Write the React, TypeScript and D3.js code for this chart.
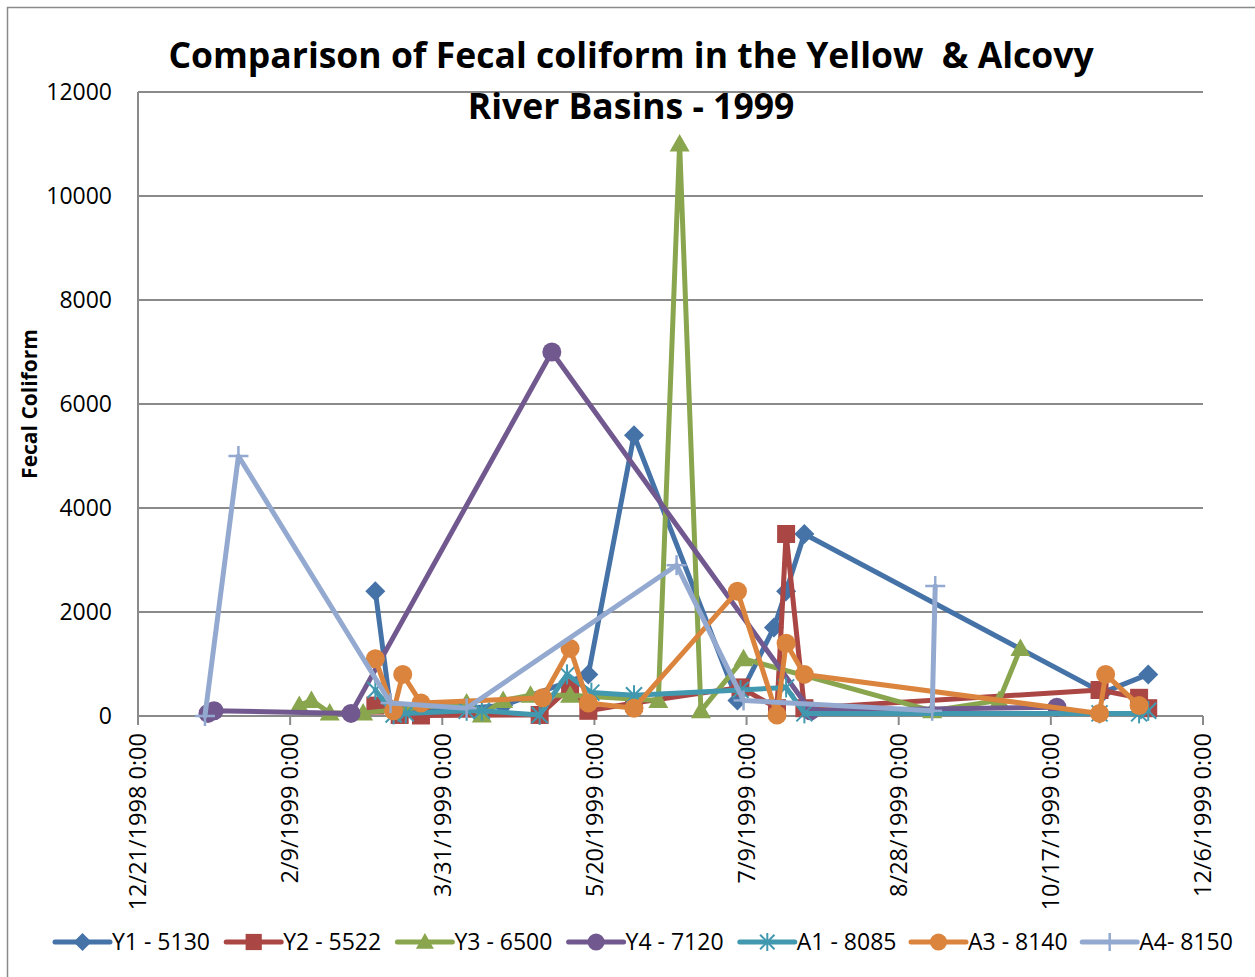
import React from "react";
import * as d3 from "d3";

// ---------- data ----------
const seriesNames = ["Y1 - 5130", "Y2 - 5522", "Y3 - 6500", "Y4 - 7120", "A1 - 8085", "A3 - 8140", "A4- 8150"];
const seriesColors = ["#4572A7", "#AA4643", "#89A54E", "#71588F", "#4198AF", "#DB843D", "#93A9CF"];
const seriesMarkers = ["diamond", "square", "triangle", "circle", "asterisk", "circle", "plus"];

const y1Dates = ["3/9/1999", "3/14/1999", "4/8/1999", "4/20/1999", "5/18/1999", "6/2/1999", "7/6/1999", "7/18/1999", "7/22/1999", "7/28/1999", "11/3/1999", "11/18/1999"];
const y1Values = [2400, 150, 150, 200, 800, 5400, 300, 1700, 2400, 3500, 450, 800];

const y2Dates = ["3/9/1999", "3/17/1999", "3/24/1999", "5/2/1999", "5/12/1999", "5/18/1999", "6/2/1999", "7/7/1999", "7/19/1999", "7/22/1999", "7/28/1999", "11/2/1999", "11/15/1999", "11/18/1999"];
const y2Values = [200, 20, 10, 20, 550, 100, 250, 550, 150, 3500, 150, 500, 350, 150];

const y3Dates = ["2/12/1999", "2/16/1999", "2/22/1999", "3/5/1999", "4/8/1999", "4/13/1999", "4/20/1999", "4/29/1999", "5/12/1999", "6/10/1999", "6/17/1999", "6/24/1999", "7/8/1999", "9/8/1999", "9/30/1999", "10/7/1999"];
const y3Values = [200, 300, 60, 60, 250, 20, 300, 400, 400, 300, 11000, 100, 1100, 100, 300, 1300];

const y4Dates = ["1/13/1999", "1/15/1999", "3/1/1999", "5/6/1999", "7/30/1999", "10/19/1999"];
const y4Values = [50, 100, 50, 7000, 100, 170];

const a1Dates = ["3/9/1999", "3/15/1999", "3/19/1999", "4/8/1999", "4/13/1999", "5/2/1999", "5/11/1999", "5/19/1999", "6/2/1999", "7/7/1999", "7/22/1999", "7/28/1999", "11/2/1999", "11/15/1999", "11/18/1999"];
const a1Values = [500, 30, 50, 100, 100, 20, 800, 450, 400, 500, 550, 50, 50, 50, 100];

const a3Dates = ["3/9/1999", "3/15/1999", "3/18/1999", "3/24/1999", "5/3/1999", "5/12/1999", "5/18/1999", "6/2/1999", "7/6/1999", "7/19/1999", "7/22/1999", "7/28/1999", "11/2/1999", "11/4/1999", "11/15/1999"];
const a3Values = [1100, 100, 800, 250, 350, 1300, 250, 150, 2400, 20, 1400, 800, 50, 800, 200];

const a4Dates = ["1/12/1999", "1/23/1999", "3/14/1999", "4/8/1999", "6/16/1999", "7/8/1999", "9/8/1999", "9/9/1999"];
const a4Values = [0, 5000, 250, 150, 2900, 300, 100, 2500];

const seriesDates = [y1Dates, y2Dates, y3Dates, y4Dates, a1Dates, a3Dates, a4Dates];
const seriesValues = [y1Values, y2Values, y3Values, y4Values, a1Values, a3Values, a4Values];

const xStart = "12/21/1998";
const xEnd = "12/6/1999";
const xTickStepDays = 50;
const yMax = 12000;
const yTickStep = 2000;

const titleLines = ["Comparison of Fecal coliform in the Yellow  & Alcovy", "River Basins - 1999"];
const yAxisTitle = "Fecal Coliform";

// ---------- layout ----------
const W = 1255;
const H = 977;
const plot = { left: 138, right: 1203, top: 92, bottom: 716 };
const FONT = "'Open Sans', 'Liberation Sans', sans-serif";
const GRID = "#8a8a8a";

const parse = d3.timeParse("%m/%d/%Y");
const fmt = d3.timeFormat("%-m/%-d/%Y 0:00");

function Marker({ type, x, y, color, s }: { type: string; x: number; y: number; color: string; s: number }) {
  if (type === "diamond") {
    return <polygon points={`${x},${y - s} ${x + s},${y} ${x},${y + s} ${x - s},${y}`} fill={color} />;
  }
  if (type === "square") {
    const h = s * 0.9;
    return <rect x={x - h} y={y - h} width={2 * h} height={2 * h} fill={color} />;
  }
  if (type === "triangle") {
    return <polygon points={`${x},${y - s} ${x + s},${y + s * 0.75} ${x - s},${y + s * 0.75}`} fill={color} />;
  }
  if (type === "circle") {
    return <circle cx={x} cy={y} r={s * 0.95} fill={color} />;
  }
  if (type === "asterisk") {
    const d = s * 0.8;
    return (
      <g stroke={color} strokeWidth={2}>
        <line x1={x} y1={y - s} x2={x} y2={y + s} />
        <line x1={x - d} y1={y - d} x2={x + d} y2={y + d} />
        <line x1={x - d} y1={y + d} x2={x + d} y2={y - d} />
      </g>
    );
  }
  if (type === "plus") {
    return (
      <g stroke={color} strokeWidth={2.5}>
        <line x1={x} y1={y - s} x2={x} y2={y + s} />
        <line x1={x - s} y1={y} x2={x + s} y2={y} />
      </g>
    );
  }
  return null;
}

export default function App() {
  const start = parse(xStart)!;
  const end = parse(xEnd)!;
  const x = d3.scaleTime().domain([start, end]).range([plot.left, plot.right]);
  const y = d3.scaleLinear().domain([0, yMax]).range([plot.bottom, plot.top]);

  const nTicks = Math.round(d3.timeDay.count(start, end) / xTickStepDays);
  const xTicks = d3.range(0, nTicks + 1).map((i) => d3.timeDay.offset(start, i * xTickStepDays));
  const yTicks = d3.range(0, yMax + 1, yTickStep);

  const line = d3
    .line<{ d: Date; v: number }>()
    .x((p) => x(p.d))
    .y((p) => y(p.v));

  const series = seriesNames.map((name, i) => ({
    name,
    color: seriesColors[i],
    marker: seriesMarkers[i],
    pts: seriesDates[i].map((ds, j) => ({ d: parse(ds)!, v: seriesValues[i][j] })),
  }));

  const legendX0 = 55;
  const legendStride = 171.2;
  const legendY = 942;

  return (
    <svg width={W} height={H} style={{ position: "absolute", left: 0, top: 0, background: "#fff" }} fontFamily={FONT}>
      <rect x={7.5} y={7.5} width={W + 10} height={H + 10} fill="#fff" stroke={GRID} strokeWidth={1.5} />

      {/* gridlines */}
      {yTicks.map((t) => (
        <line key={t} x1={plot.left} x2={plot.right} y1={y(t)} y2={y(t)} stroke={GRID} strokeWidth={2} />
      ))}
      <line x1={plot.left} x2={plot.left} y1={plot.top} y2={plot.bottom} stroke={GRID} strokeWidth={2} />
      {xTicks.map((t, i) => (
        <line key={i} x1={x(t)} x2={x(t)} y1={plot.bottom} y2={plot.bottom + 9} stroke={GRID} strokeWidth={2} />
      ))}

      {/* y tick labels */}
      {yTicks.map((t) => (
        <text key={t} x={112} y={y(t)} dy="0.35em" textAnchor="end" fontSize={23} fill="#000">
          {t}
        </text>
      ))}

      {/* x tick labels */}
      {xTicks.map((t, i) => (
        <text
          key={i}
          transform={`translate(${x(t)},${plot.bottom + 17}) rotate(-90)`}
          dy="0.35em"
          textAnchor="end"
          fontSize={23.5}
          fill="#000"
        >
          {fmt(t)}
        </text>
      ))}

      {/* y axis title */}
      <text transform={`translate(30,${(plot.top + plot.bottom) / 2}) rotate(-90)`} dy="0.35em" textAnchor="middle" fontSize={21} fontWeight="bold">
        {yAxisTitle}
      </text>

      {/* series */}
      {series.map((s) => (
        <g key={s.name}>
          <path d={line(s.pts)!} fill="none" stroke={s.color} strokeWidth={5} strokeLinejoin="round" strokeLinecap="round" />
          {s.pts.map((p, j) => (
            <Marker key={j} type={s.marker} x={x(p.d)} y={y(p.v)} color={s.color} s={10} />
          ))}
        </g>
      ))}

      {/* title */}
      {titleLines.map((t, i) => (
        <text
          key={i}
          x={631}
          y={68 + i * 51}
          textAnchor="middle"
          fontSize={35.5}
          fontWeight="bold"
          fill="#000"
          style={{ whiteSpace: "pre" }}
          xmlSpace="preserve"
        >
          {t}
        </text>
      ))}

      {/* legend */}
      {series.map((s, i) => {
        const lx = legendX0 + i * legendStride;
        return (
          <g key={s.name}>
            <line x1={lx} x2={lx + 55} y1={legendY} y2={legendY} stroke={s.color} strokeWidth={5} strokeLinecap="round" />
            <Marker type={s.marker} x={lx + 27.5} y={legendY} color={s.color} s={9} />
            <text x={lx + 57} y={legendY} dy="0.35em" fontSize={23} fill="#000">
              {s.name}
            </text>
          </g>
        );
      })}
    </svg>
  );
}
